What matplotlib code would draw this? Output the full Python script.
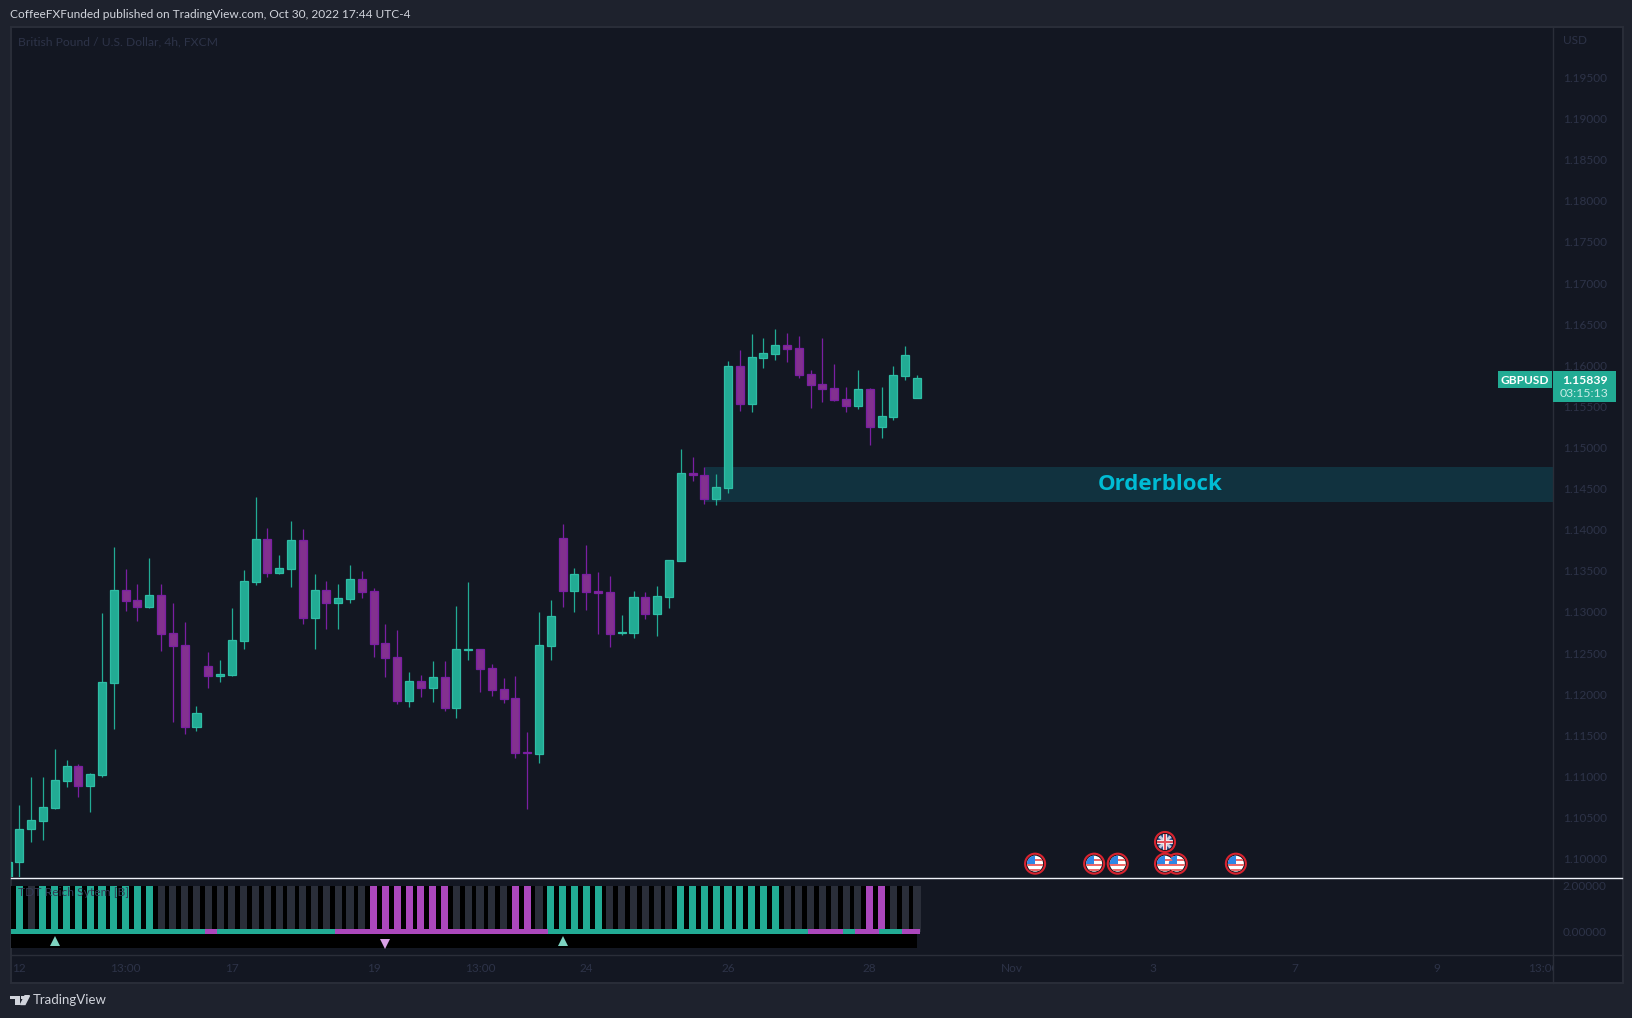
"""GBP/USD 4h candle chart in the TradingView dark theme, with a signal pane below."""

import matplotlib

matplotlib.use("Agg")

import matplotlib.pyplot as plt
import numpy as np
from matplotlib.lines import Line2D
from matplotlib.patches import Circle, Polygon, Rectangle
from matplotlib.transforms import Affine2D

# bar 0 is cut off by the left edge of the pane
opens = [1.09700, 1.09956, 1.10357, 1.10463, 1.10621, 1.10949, 1.11123, 1.10888, 1.11022, 1.12141,
         1.13263, 1.13142, 1.13065, 1.13203, 1.12741, 1.12595, 1.11606, 1.12339, 1.12226, 1.12238,
         1.12651, 1.13369, 1.13884, 1.13478, 1.13527, 1.13871, 1.12931, 1.13263, 1.13113, 1.13162,
         1.13397, 1.13251, 1.12619, 1.12449, 1.11922, 1.12157, 1.12080, 1.12206, 1.11837, 1.12538,
         1.12546, 1.12314, 1.12059, 1.11950, 1.11293, 1.11277, 1.12590, 1.13895, 1.13259, 1.13457,
         1.13251, 1.13239, 1.12740, 1.12748, 1.13178, 1.12979, 1.13186, 1.13624, 1.14686, 1.14661,
         1.14377, 1.14511, 1.15987, 1.15533, 1.16092, 1.16141, 1.16242, 1.16205, 1.15889, 1.15768,
         1.15719, 1.15585, 1.15508, 1.15707, 1.15253, 1.15375, 1.15873, 1.15606]
highs = [1.09960, 1.10653, 1.10994, 1.10994, 1.11334, 1.11200, 1.11152, 1.11042, 1.12988, 1.13790,
         1.13523, 1.13340, 1.13657, 1.13340, 1.13109, 1.12878, 1.11857, 1.12514, 1.12416, 1.13049,
         1.13511, 1.14398, 1.14021, 1.13693, 1.14106, 1.14009, 1.13462, 1.13377, 1.13340, 1.13571,
         1.13499, 1.13292, 1.12854, 1.12781, 1.12270, 1.12234, 1.12404, 1.12404, 1.13073, 1.13365,
         1.12546, 1.12367, 1.12197, 1.12221, 1.11540, 1.13000, 1.13145, 1.14069, 1.13534, 1.13814,
         1.13486, 1.13437, 1.12963, 1.13255, 1.13243, 1.13316, 1.13628, 1.14981, 1.14884, 1.14763,
         1.14677, 1.16051, 1.16185, 1.16380, 1.16331, 1.16441, 1.16392, 1.16355, 1.15942, 1.16331,
         1.16015, 1.15735, 1.15942, 1.15723, 1.15735, 1.15991, 1.16234, 1.15881]
lows = [1.09600, 1.09782, 1.10207, 1.10232, 1.10605, 1.10876, 1.10755, 1.10572, 1.10998, 1.11581,
        1.13016, 1.12895, 1.13053, 1.12526, 1.11667, 1.11521, 1.11557, 1.12080, 1.12153, 1.12226,
        1.12554, 1.13332, 1.13430, 1.13466, 1.13308, 1.12858, 1.12554, 1.12797, 1.12797, 1.13113,
        1.13174, 1.12457, 1.12214, 1.11885, 1.11849, 1.11971, 1.11910, 1.11800, 1.11715, 1.12420,
        1.12031, 1.11982, 1.11897, 1.11228, 1.10608, 1.11168, 1.12420, 1.13064, 1.13004, 1.13028,
        1.12736, 1.12578, 1.12720, 1.12687, 1.12918, 1.12712, 1.13052, 1.13624, 1.14596, 1.14317,
        1.14305, 1.14450, 1.15448, 1.15435, 1.15970, 1.16064, 1.16043, 1.15849, 1.15484, 1.15557,
        1.15569, 1.15435, 1.15472, 1.15034, 1.15119, 1.15338, 1.15825, 1.15606]
closes = [1.09960, 1.10357, 1.10467, 1.10625, 1.10953, 1.11123, 1.10888, 1.11026, 1.12145, 1.13263,
          1.13138, 1.13065, 1.13203, 1.12737, 1.12591, 1.11606, 1.11768, 1.12226, 1.12242, 1.12656,
          1.13373, 1.13884, 1.13478, 1.13531, 1.13871, 1.12931, 1.13263, 1.13113, 1.13166, 1.13397,
          1.13247, 1.12615, 1.12445, 1.11922, 1.12157, 1.12080, 1.12206, 1.11837, 1.12546, 1.12550,
          1.12310, 1.12055, 1.11946, 1.11289, 1.11281, 1.12594, 1.12947, 1.13259, 1.13457, 1.13247,
          1.13235, 1.12736, 1.12756, 1.13178, 1.12979, 1.13190, 1.13628, 1.14686, 1.14661, 1.14377,
          1.14515, 1.15987, 1.15533, 1.16096, 1.16145, 1.16242, 1.16201, 1.15885, 1.15764, 1.15715,
          1.15581, 1.15508, 1.15707, 1.15253, 1.15379, 1.15877, 1.16120, 1.15839]

price_ticks = [1.10, 1.105, 1.11, 1.115, 1.12, 1.125, 1.13, 1.135, 1.14, 1.145, 1.15, 1.155,
               1.16, 1.165, 1.17, 1.175, 1.18, 1.185, 1.19, 1.195]

time_bars = [1, 10, 19, 31, 40, 49, 61, 73, 85, 97, 109, 121, 130]
time_labels = ["12", "13:00", "17", "19", "13:00", "24", "26", "28", "Nov", "3", "7", "9", "13:00"]

# signal pane: T teal, P purple, D dark
column_state = ("TTDTTTTTTTTTT" + "D" * 18 + "P" * 7 + "D" * 5 + "PPD" + "TTTTT" + "D" * 6
                + "T" * 9 + "D" * 7 + "PP" + "DDD")
baseline_state = ("T" * 17 + "P" + "T" * 10 + "P" * 18 + "T" * 22 + "PPP" + "T" + "PP" + "TT" + "PP")
signal_up_bars = [4, 47]
signal_down_bars = [32]

us_event_bars = [87, 92, 94, 99, 98, 104]
uk_event_bars = [98]

orderblock_top = 1.14763
orderblock_bottom = 1.14341
orderblock_start = 59.07

W, H = 1633, 1018
XLIM = (0.295, 130.85)
TEAL = "#22ab94"
TEAL_EDGE = "#2fbda5"
PURPLE = "#83318f"
PURPLE_EDGE = "#7b1fa2"
WICK_PURPLE = "#7b1fa2"
BG = "#1e222d"
PANE = "#131722"
BORDER = "#2a2e39"
DIM = "#2d3348"
FONT = "Lato"

plt.rcParams["font.family"] = [FONT, "DejaVu Sans"]

fig = plt.figure(figsize=(W / 100, H / 100), dpi=100, facecolor=BG)


def px_axes(left, top, right, bottom):
    """Add a transparent axes from pixel edges measured from the top left."""
    ax = fig.add_axes([left / W, 1 - bottom / H, (right - left) / W, (bottom - top) / H])
    ax.patch.set_visible(False)
    for spine in ax.spines.values():
        spine.set_visible(False)
    return ax


def px_text(x, y, s, **kwargs):
    kwargs.setdefault("va", "center")
    kwargs.setdefault("zorder", 11)
    return fig.text(x / W, 1 - y / H, s, **kwargs)


def px_rect(left, top, right, bottom, color, zorder=10, edge="none", lw=0):
    rect = Rectangle((left / W, 1 - bottom / H), (right - left) / W, (bottom - top) / H,
                     transform=fig.transFigure, facecolor=color, edgecolor=edge, linewidth=lw,
                     zorder=zorder)
    fig.add_artist(rect)


def px_line(x0, y0, x1, y1, color, lw=1.0, zorder=5):
    fig.add_artist(Line2D([x0 / W, x1 / W], [1 - y0 / H, 1 - y1 / H], color=color, linewidth=lw,
                          transform=fig.transFigure, zorder=zorder))


def draw_flag(ax, bar, price, kind):
    """Event badge: red ring, dark gap and a small round flag, sized in pixels."""
    cx, cy = ax.transData.transform((bar, price))
    tr = Affine2D().translate(cx, cy)
    ax.add_patch(Circle((0, 0), 10.0, transform=tr, facecolor="#131722", edgecolor="#d9232f",
                        linewidth=1.5, zorder=6, clip_on=False))
    disc = Circle((0, 0), 8.0, transform=tr, facecolor="#ffffff", edgecolor="none", zorder=7,
                  clip_on=False)
    ax.add_patch(disc)
    shapes = []
    if kind == "us":
        for y0 in (-7.5, -2.5, 2.5):
            shapes.append(Rectangle((-9, y0), 18, 2.5, facecolor="#ef6a6a", edgecolor="none"))
        shapes.append(Rectangle((-9, 0), 9, 9, facecolor="#2f86e6", edgecolor="none"))
    else:
        disc.set_facecolor("#33548f")
        shapes.append(Polygon([(-8, -6), (-6, -8), (8, 6), (6, 8)], facecolor="#c8c8d8", edgecolor="none"))
        shapes.append(Polygon([(-8, 6), (-6, 8), (8, -6), (6, -8)], facecolor="#c8c8d8", edgecolor="none"))
        shapes.append(Rectangle((-2.4, -9), 4.8, 18, facecolor="#f0e8ec", edgecolor="none"))
        shapes.append(Rectangle((-9, -2.4), 18, 4.8, facecolor="#f0e8ec", edgecolor="none"))
        shapes.append(Rectangle((-1.2, -9), 2.4, 18, facecolor="#e2505a", edgecolor="none"))
        shapes.append(Rectangle((-9, -1.2), 18, 2.4, facecolor="#e2505a", edgecolor="none"))
    for shape in shapes:
        shape.set_transform(tr)
        shape.set_zorder(8)
        ax.add_patch(shape)
        shape.set_clip_path(disc)


# frame
px_rect(10.5, 26.5, 1623, 983, PANE, zorder=-1, edge=BORDER, lw=1.4)
px_line(1553, 27, 1553, 983, BORDER, lw=1.0)
px_line(11, 955.3, 1623, 955.3, BORDER, lw=1.0)

# price pane
ax = px_axes(11, 27, 1553, 877)
ax.set_xlim(*XLIM)
ax.set_ylim(1.09777, 1.20113)
ax.yaxis.tick_right()
ax.set_yticks(price_ticks)
ax.set_yticklabels([f"{p:.5f}" for p in price_ticks])
ax.tick_params(axis="y", length=0, pad=7.2, labelsize=8.5, labelcolor=DIM)
ax.set_xticks([])

ax.add_patch(Rectangle((orderblock_start, orderblock_bottom), XLIM[1] - orderblock_start,
                       orderblock_top - orderblock_bottom, facecolor="#11323f", edgecolor="none", zorder=1))
ax.text(97.6, (orderblock_top + orderblock_bottom) / 2, "Orderblock", color="#00bcd4", fontsize=16,
        fontfamily="Open Sans", fontweight="bold", ha="center", va="center", zorder=2)

bars = np.arange(len(opens))
o, h, l, c = map(np.array, (opens, highs, lows, closes))
up = c >= o
ax.vlines(bars[up], l[up], h[up], color=TEAL, linewidth=0.9, zorder=3)
ax.vlines(bars[~up], l[~up], h[~up], color=WICK_PURPLE, linewidth=0.9, zorder=3)
ax.bar(bars[up], np.abs(c - o)[up], bottom=o[up], width=0.68, color=TEAL, edgecolor=TEAL_EDGE,
       linewidth=0.9, zorder=4)
ax.bar(bars[~up], np.abs(c - o)[~up], bottom=c[~up], width=0.68, color=PURPLE, edgecolor=PURPLE_EDGE,
       linewidth=0.9, zorder=4)

for bar in us_event_bars:
    draw_flag(ax, bar, 1.09939, "us")
for bar in uk_event_bars:
    draw_flag(ax, bar, 1.10203, "uk")

# signal pane
sig = px_axes(11, 878, 1553, 955)
sig.set_xlim(*XLIM)
sig.set_ylim(-1.013, 2.335)
sig.yaxis.tick_right()
sig.set_yticks([2, 0])
sig.set_yticklabels(["2.00000", "0.00000"])
sig.tick_params(axis="y", length=0, pad=7.2, labelsize=8.5, labelcolor=DIM)
sig.set_xticks([])

state_colors = {"T": TEAL, "P": "#ab47bc", "D": "#2a2e39"}
# the last cell stops just past its column
cell_widths = np.ones(len(bars))
cell_widths[-1] = 0.47
sig.bar(bars - 0.25, 2.1, bottom=-0.1, width=cell_widths, align="edge", color="#000000", zorder=1)
sig.bar(bars - 0.5, 0.6, bottom=-0.7, width=1.0, color="#000000", zorder=1)
sig.bar(bars, 2.0, width=0.6, color=[state_colors[s] for s in column_state], zorder=2)
sig.bar(bars - 0.25, 0.22, bottom=-0.1, width=cell_widths, align="edge",
        color=[state_colors[s] for s in baseline_state], zorder=3)
sig.plot(signal_up_bars, [-0.4] * len(signal_up_bars), linestyle="none", marker="^", markersize=7.2,
         color="#7dd3c0", markeredgewidth=0, zorder=4)
sig.plot(signal_down_bars, [-0.53] * len(signal_down_bars), linestyle="none", marker="v", markersize=7.2,
         color="#d9a0e6", markeredgewidth=0, zorder=4)

# time axis
tax = px_axes(11, 956, 1553, 983)
tax.set_xlim(*XLIM)
tax.set_ylim(0, 1)
tax.set_xticks([])
tax.set_yticks([])
for bar, label in zip(time_bars, time_labels):
    tax.text(bar, 0.52, label, color=DIM, fontsize=8.5, ha="center", va="center", clip_on=True)

px_line(11, 877.5, 1622, 877.5, "#f0f3fa", lw=1.0, zorder=9)

# header and overlays
px_text(10, 14.5, "CoffeeFXFunded published on TradingView.com, Oct 30, 2022 17:44 UTC-4",
        color="#d1d4dc", fontsize=8.6)
px_text(18, 41.5, "British Pound / U.S. Dollar, 4h, FXCM", color=DIM, fontsize=8.75)
px_text(1563, 40.7, "USD", color=DIM, fontsize=8.5)
px_text(18, 893, "TDT Reich Sytem [B]", color="#343a55", fontsize=8.7)

# last price badge
px_rect(1498, 371, 1552, 388, TEAL)
px_rect(1553, 371, 1616, 402, TEAL)
px_text(1525, 380, "GBPUSD", color="#ffffff", fontsize=8.6, fontweight="bold", ha="center")
px_text(1584.5, 380, "1.15839", color="#ffffff", fontsize=8.8, fontweight="bold", ha="center")
px_text(1584.5, 394, "03:15:13", color="#c8ece6", fontsize=8.8, ha="center")

# logo and footer
logo = "#d1d4dc"
px_rect(10, 995.7, 20, 999, logo)
px_rect(15.5, 995.7, 20, 1004.5, logo)
px_rect(20.8, 995.9, 24, 999, logo)
fig.add_artist(Polygon([(25 / W, 1 - 995.7 / H), (29.5 / W, 1 - 995.7 / H), (25 / W, 1 - 1004.5 / H),
                        (20.5 / W, 1 - 1004.5 / H)], transform=fig.transFigure, color=logo, zorder=10))
px_text(33, 1000, "TradingView", color="#d1d4dc", fontsize=9.5)

fig.savefig("out.png", dpi=100, facecolor=BG)
